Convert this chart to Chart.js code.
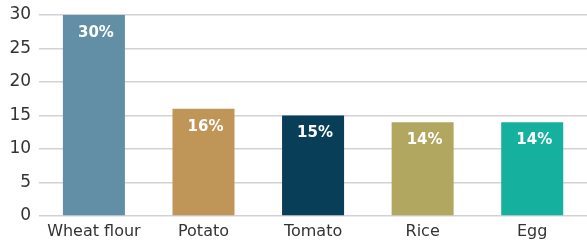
<!DOCTYPE html>
<html>
<head>
<meta charset="utf-8">
<script src="https://cdn.jsdelivr.net/npm/chart.js@4/dist/chart.umd.min.js"></script>
<style>
  html, body { margin: 0; padding: 0; background: #fff; }
  #wrap { width: 587px; height: 248px; }
</style>
</head>
<body>
<div id="wrap"><canvas id="foodChart" width="587" height="248"></canvas></div>
<script>
// Chart data
const categories = ["Wheat flour", "Potato", "Tomato", "Rice", "Egg"];
const shares = [30, 16, 15, 14, 14];
const shareLabels = ["30%", "16%", "15%", "14%", "14%"];
const barColors = ["#628fa6", "#c09558", "#083e57", "#b2a761", "#16b09e"];

// Draw the percent labels inside the bars
const barLabels = {
  id: "barLabels",
  afterDatasetsDraw(chart) {
    const ctx = chart.ctx;
    const meta = chart.getDatasetMeta(0);
    ctx.save();
    ctx.fillStyle = "#ffffff";
    ctx.font = "bold 15px 'DejaVu Sans'";
    ctx.textAlign = "center";
    ctx.textBaseline = "middle";
    meta.data.forEach((bar, i) => {
      ctx.fillText(shareLabels[i], bar.x + 2, bar.y + 18);
    });
    ctx.restore();
  }
};

new Chart(document.getElementById("foodChart").getContext("2d"), {
  type: "bar",
  data: {
    labels: categories,
    datasets: [{
      data: shares,
      backgroundColor: barColors,
      categoryPercentage: 1,
      barPercentage: 0.566
    }]
  },
  options: {
    responsive: false,
    animation: false,
    layout: { padding: { top: 0, right: 0, left: 1.5, bottom: 0 } },
    plugins: {
      legend: { display: false },
      tooltip: { enabled: false }
    },
    scales: {
      x: {
        grid: { display: false, drawTicks: false },
        border: { display: false },
        ticks: { color: "#333", font: { family: "DejaVu Sans", size: 16, lineHeight: 1.0 }, padding: 8 }
      },
      y: {
        min: 0,
        max: 30,
        ticks: { stepSize: 5, color: "#333", font: { family: "DejaVu Sans", size: 17, lineHeight: 0.82 }, padding: 8 },
        grid: { color: "#d2d2d6", lineWidth: 1.5, drawTicks: false },
        border: { display: false }
      }
    }
  },
  plugins: [barLabels]
});
</script>
</body>
</html>
